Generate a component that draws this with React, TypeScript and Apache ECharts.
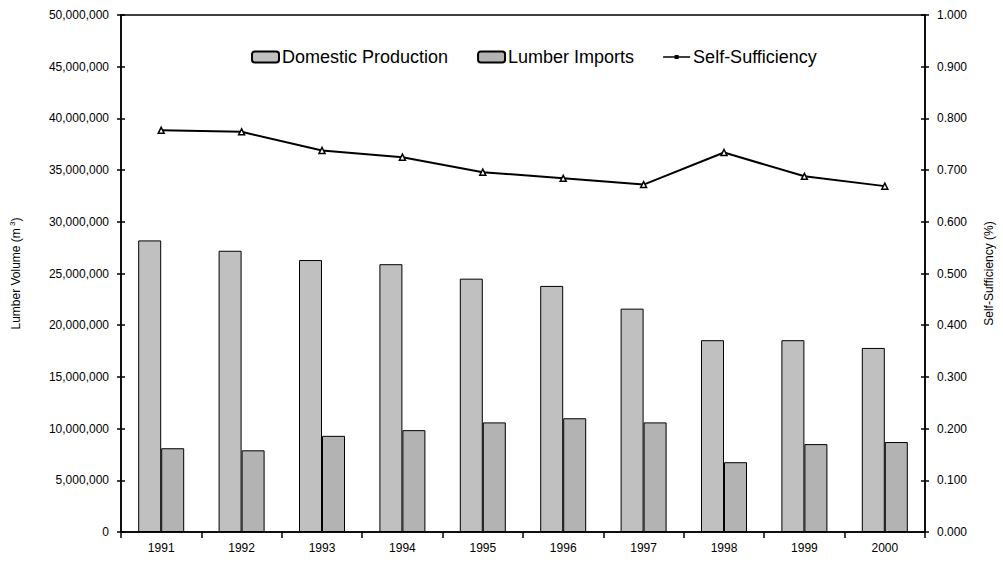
import React, { useEffect, useRef } from "react";
import * as echarts from "echarts";

const years = ["1991", "1992", "1993", "1994", "1995", "1996", "1997", "1998", "1999", "2000"];
const domesticProduction = [28200000, 27200000, 26300000, 25900000, 24500000, 23800000, 21600000, 18550000, 18550000, 17800000];
const lumberImports = [8100000, 7900000, 9300000, 9850000, 10600000, 11000000, 10600000, 6750000, 8500000, 8700000];
const selfSufficiency = [0.777, 0.774, 0.738, 0.725, 0.696, 0.684, 0.672, 0.734, 0.688, 0.669];

const FONT = "Liberation Sans, Arial, sans-serif";
const LINE_ICON =
  "path://M0,0 L0.01,0 L0,0.01 Z M0,11 L0.01,11 L0,10.99 Z M0,4.7 L27,4.7 L27,6.3 L0,6.3 Z M11.5,3.5 L15.5,3.5 L15.5,7.5 L11.5,7.5 Z";

export default function App() {
  const ref = useRef<HTMLDivElement>(null);
  useEffect(() => {
    document.body.style.margin = "0";
    const chart = echarts.init(ref.current!, null, { renderer: "svg" });
    const axisLine = { show: true, lineStyle: { color: "#000", width: 1.5 } };
    chart.setOption({
      animation: false,
      textStyle: { fontFamily: FONT },
      grid: {
        left: 119,
        right: 73,
        top: 15,
        bottom: 33,
        containLabel: false,
        show: true,
        borderColor: "#000",
        borderWidth: 1.5,
        backgroundColor: "transparent",
      },
      legend: {
        left: 246,
        top: 43,
        itemWidth: 27,
        itemHeight: 11,
        itemGap: 29,
        textStyle: { fontSize: 18, color: "#000", fontFamily: FONT, padding: [0, 0, 0, -2] },
        data: [
          "Domestic Production",
          "Lumber Imports",
          { name: "Self-Sufficiency", icon: LINE_ICON, itemStyle: { color: "#000", borderWidth: 0 } },
        ],
      },
      xAxis: [
        {
          type: "category",
          data: years,
          position: "bottom",
          axisLine,
          axisTick: { show: true, length: 6, lineStyle: { color: "#000", width: 1.5 } },
          axisLabel: { color: "#000", fontSize: 12, margin: 10, fontFamily: FONT },
          splitLine: { show: false },
        },
      ],
      yAxis: [
        {
          type: "value",
          position: "left",
          min: 0,
          max: 50000000,
          interval: 5000000,
          axisLine,
          axisTick: { show: true, length: 4, lineStyle: { color: "#000", width: 1.5 } },
          axisLabel: {
            color: "#000",
            fontSize: 12,
            margin: 12,
            fontFamily: FONT,
            formatter: (v: number) => v.toLocaleString("en-US"),
          },
          splitLine: { show: false },
          name: "Lumber Volume (m{s| 3})",
          nameLocation: "middle",
          nameRotate: 90,
          nameGap: 97,
          nameTextStyle: {
            color: "#000",
            fontSize: 12,
            fontFamily: FONT,
            rich: { s: { fontSize: 8, padding: [0, 0, 8, 0], color: "#000", fontFamily: FONT } },
          },
        },
        {
          type: "value",
          position: "right",
          min: 0,
          max: 1,
          interval: 0.1,
          axisLine,
          axisTick: { show: true, length: 4, lineStyle: { color: "#000", width: 1.5 } },
          axisLabel: {
            color: "#000",
            fontSize: 12,
            margin: 12,
            fontFamily: FONT,
            formatter: (v: number) => v.toFixed(3),
          },
          splitLine: { show: false },
          name: "Self-Sufficiency (%)",
          nameLocation: "middle",
          nameRotate: 90,
          nameGap: 58,
          nameTextStyle: { color: "#000", fontSize: 12, fontFamily: FONT },
        },
        {
          type: "value",
          position: "left",
          min: 0,
          max: 50000000,
          interval: 5000000,
          axisLine: { show: false },
          axisTick: { show: true, inside: true, length: 4, lineStyle: { color: "#000", width: 1.5 } },
          axisLabel: { show: false },
          splitLine: { show: false },
        },
        {
          type: "value",
          position: "right",
          min: 0,
          max: 1,
          interval: 0.1,
          axisLine: { show: false },
          axisTick: { show: true, inside: true, length: 4, lineStyle: { color: "#000", width: 1.5 } },
          axisLabel: { show: false },
          splitLine: { show: false },
        },
      ],
      series: [
        {
          name: "Domestic Production",
          type: "bar",
          data: domesticProduction,
          yAxisIndex: 0,
          barWidth: 23,
          barGap: "0%",
          itemStyle: { color: "#c0c0c0", borderColor: "#000", borderWidth: 1 },
        },
        {
          name: "Lumber Imports",
          type: "bar",
          data: lumberImports,
          yAxisIndex: 0,
          barWidth: 23,
          barGap: "0%",
          itemStyle: { color: "#b3b3b3", borderColor: "#000", borderWidth: 1 },
        },
        {
          name: "Self-Sufficiency",
          type: "line",
          data: selfSufficiency,
          yAxisIndex: 1,
          symbol: "triangle",
          symbolSize: 6,
          lineStyle: { color: "#000", width: 2 },
          itemStyle: { color: "#fff", borderColor: "#000", borderWidth: 1.5 },
          z: 5,
        },
      ],
    });
    return () => chart.dispose();
  }, []);
  return <div ref={ref} style={{ width: 1003, height: 565 }} />;
}
